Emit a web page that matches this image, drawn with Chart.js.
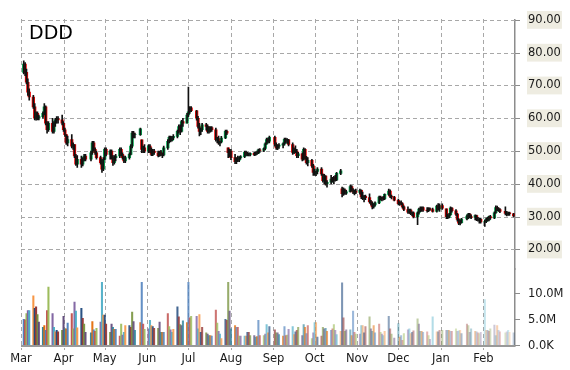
<!DOCTYPE html>
<html>
<head>
<meta charset="utf-8">
<script src="https://cdn.jsdelivr.net/npm/chart.js@4.4.1/dist/chart.umd.min.js"></script>
<style>
  html, body { margin: 0; padding: 0; background: #fff; }
  #wrap { width: 570px; height: 370px; position: relative; }
</style>
</head>
<body>
<div id="wrap"><canvas id="stockChart"></canvas></div>
<script>
// trading days Mar 3 2014 .. Feb 23 2015 (x = days since Mar 1 2014)
var holidays = ['2014-04-18', '2014-05-26', '2014-07-04', '2014-09-01', '2014-11-27',
                '2014-12-25', '2015-01-01', '2015-01-19', '2015-02-16'];
var monthDays = [0, 31, 61, 92, 122, 153, 184, 214, 245, 275, 306, 337];
var monthLabels = ['Mar', 'Apr', 'May', 'Jun', 'Jul', 'Aug', 'Sep', 'Oct', 'Nov', 'Dec', 'Jan', 'Feb'];
var priceTicks = [20, 30, 40, 50, 60, 70, 80, 90];
var volumeTicks = [0, 5, 10];

var open = [
  74, 76.5, 74, 71, 68, 66.5, 63.5, 60, 61.5, 60, 60.5, 61.5, 63.5, 58.5, 56.5, 58.5, 56, 58.5, 59.5, 59.8, 59.5,
  58.5, 56.5, 55, 52.5, 53.5, 51.5, 52, 48.5, 46, 47.5, 46, 47.5, 48.5, 47.5, 49.5, 52.5, 50.5, 49.5, 48, 46.5, 44.5,
  47.5, 50.5, 49, 50, 48, 46.5, 48, 48.5, 50.5, 49, 48, 47, 48, 49, 51.5, 55.5, 55, 55, 53.4, 50.5, 51,
  50, 51.5, 50, 49, 50, 49.5, 48.6, 49.8, 49, 48.8, 51, 53, 54.2, 53.2, 54, 54.5, 56, 57.5, 56, 59, 58.5,
  61, 62, 63.2, 62.3, 60, 57.5, 56, 56.5, 58, 57.5, 56, 56.5, 57.2, 56.5, 53.5, 53.8, 52.5, 52.8, 54, 56, 51, 49.5,
  50, 48, 46.8, 47.6, 47.2, 48, 48.3, 49.6, 49, 49.2, 48.8, 49.3, 48.9, 49.5, 49.4, 50.4, 50.2, 50.8, 52.2, 53.5, 53,
  54.2, 52, 51, 51.5, 51.8, 52.2, 53.6, 53, 53.4, 52, 49.6, 50.5, 50, 48.6, 49.2, 47.5, 50.5, 48, 46.5, 47.2, 45.5,
  43.5, 43, 43.8, 44.5, 43, 41, 42.4, 40, 40.5, 41.5, 41, 42, 41.2, 43.2, 38.5, 37, 38.2, 37.2, 37.6, 39.2, 38, 37.5, 37.8,
  37.4, 38, 36, 35.5, 36.2, 35.8, 34.6, 34, 33, 33.6, 34.2, 36, 35.4, 35.8, 35.5, 36.8, 37.8, 36.2, 36,
  35, 34, 34.3, 33.9, 33, 32.2, 31.4, 32, 30.9, 31.2, 29.9, 31.2, 32.3, 32.4, 32.8, 32, 31.8, 32.5, 32.2, 31.6, 33.2, 32.4,
  33.4, 32.4, 30, 29.8, 30.6, 32.6, 31.8, 30.8, 29.2, 28, 28.2, 29.3, 30.2, 30.8, 30, 29.8, 30.3, 29.1, 28.9, 29.2,
  28.4, 28.5, 29.3, 29, 30, 29.6, 31.2, 32.8, 32.4, 32.2, 31.6, 31, 30.8, 31.2, 30.9
];
var high = [
  77.5, 77, 75, 72, 69, 67, 64.5, 62, 62, 61, 62, 64.5, 63.8, 59, 59, 60, 59, 60, 60.5, 60.5, 61,
  59, 57, 55, 54.6, 55, 52.5, 52, 49, 48.6, 48.5, 48, 49, 49, 50, 53, 53, 51, 50, 48.5, 47.4, 48,
  51, 51, 50.4, 50.4, 48.6, 48.6, 49, 51, 51, 49.5, 48.5, 48.5, 49.5, 52, 56, 56, 55.5, 57, 53.4, 51.5, 52,
  52, 52, 51, 50.5, 50.5, 50, 50, 50.2, 49.5, 51.5, 53.5, 54.6, 54.6, 54.5, 55, 56.4, 58, 58, 59.4, 60, 61.5,
  69.5, 63.6, 63.6, 62.4, 60.6, 58.5, 57, 58.5, 58.5, 58, 57.5, 57.5, 57.5, 57, 54.2, 54.6, 53, 54.5, 56.4, 56.4, 51, 50.5,
  50.5, 49, 48, 48.5, 48.3, 48.6, 50, 50, 49.6, 49.5, 49.5, 49.6, 49.8, 50, 50.6, 50.8, 51, 52.5, 54, 54, 54.6,
  54.6, 52.5, 52, 52.3, 52.5, 54, 54, 53.8, 53.6, 52.5, 51, 51.6, 50.5, 49.6, 49.5, 51, 50.8, 48.4, 48, 47.5, 46,
  44.5, 44, 45, 45, 43, 42.9, 42.5, 41, 42.6, 42, 42.3, 42.6, 43.5, 44.4, 39, 38.8, 38.5, 38, 39.6, 39.5, 38.6, 38.2, 38.4,
  38.4, 38.2, 37.5, 36.5, 36.6, 37, 35, 34.5, 34, 34.5, 36.3, 36.3, 36, 36.2, 37, 38.4, 38.2, 36.6, 36.2,
  35.4, 34.6, 34.8, 34.2, 33.3, 33, 32.3, 32.3, 31.5, 31.5, 31.5, 32.6, 33, 33, 33, 32.8, 32.8, 32.7, 32.6, 33.5, 34, 33.9,
  33.9, 32.4, 30.8, 31, 33, 32.8, 32.2, 31, 29.4, 29, 29.5, 30.6, 31, 31, 30.6, 30.6, 30.5, 29.8, 29.5, 29.6,
  29, 29.6, 29.8, 30.2, 30.4, 31.5, 33.3, 33.2, 32.8, 32.5, 33, 31.6, 31.4, 31.4, 31
];
var low = [
  73.5, 73, 70.5, 67, 65.5, 63, 59.5, 59.4, 59.5, 59.5, 60, 61, 58, 55.5, 56, 55.5, 55.5, 57.5, 58.5, 58.5, 58,
  56, 54.5, 52, 51.6, 51, 50.5, 48, 45.6, 45, 45, 45.5, 47, 47, 47, 49, 50, 49, 47.5, 46, 43.5, 44,
  47.4, 48.5, 47.5, 47.5, 45.6, 46, 47, 48, 48.5, 47.5, 46.5, 46.5, 47.5, 48.8, 51, 54, 54, 54.8, 49.5, 49.5, 49.5,
  49.5, 49.5, 48.6, 48.6, 49, 48.2, 48.4, 48.6, 48, 48.5, 50.5, 52.5, 52.8, 53, 53.5, 54, 55.5, 55, 55.8, 57.5, 58.5,
  60.5, 61.5, 62, 59.4, 57, 54.6, 55, 56, 56.4, 55.5, 55.5, 55.8, 56, 53, 52.5, 52, 51.6, 52.5, 53.8, 55, 48, 48.2,
  47.4, 46.2, 46.2, 46.8, 46.8, 47.5, 48, 48.6, 48.5, 48.5, 48.5, 48.6, 48.7, 49, 49.2, 49.6, 49.8, 50.4, 52, 52.5, 52.5,
  51.5, 50.5, 50.4, 50.8, 51, 51.8, 52.5, 52.3, 51.6, 49, 49.2, 49.5, 48, 48, 47, 47.2, 47.5, 46, 45.5, 45, 42.6,
  42.6, 42.5, 43, 42.6, 40.5, 40, 39.6, 39, 40, 40.5, 40, 40.8, 41, 42.8, 36, 36.5, 36.8, 36.8, 37.5, 37.8, 37, 36.6, 37,
  36.9, 35.5, 35.2, 34.5, 35.2, 34.2, 33.5, 32.4, 32.6, 33.2, 34, 35, 34.8, 35, 35.2, 36.5, 35.8, 35.4, 34.8,
  33.6, 33.4, 33.7, 32.6, 31.8, 31, 31, 30.6, 30.3, 29.6, 27.6, 30.8, 31.5, 31.6, 31.6, 31.4, 31.5, 31.9, 31.4, 31.4, 32, 31.6,
  32.2, 29.4, 29.4, 29.6, 30.4, 31.4, 30.4, 28.6, 27.6, 27.5, 28, 29, 29.4, 29.6, 29.4, 29, 28.8, 28.6, 28, 28,
  27, 28.2, 28.6, 28.7, 29.2, 29.4, 31, 31.8, 31.6, 31.2, 30.5, 30.2, 30.4, 30.4, 29.9
];
var close = [
  76.5, 74, 71, 68, 66.5, 63.5, 60, 61.5, 60, 60.5, 61.5, 63.5, 58.5, 56.5, 58.5, 56, 58.5, 59.5, 59.8, 59.5, 58.5,
  56.5, 55, 52.5, 53.5, 51.5, 52, 48.5, 46, 47.5, 46, 47.5, 48.5, 47.5, 49.5, 52.5, 50.5, 49.5, 48, 46.5, 44.5, 47.5,
  50.5, 49, 50, 48, 46.5, 48, 48.5, 50.5, 49, 48, 47, 48, 49, 51.5, 55.5, 55, 55, 56.8, 50.5, 51, 50,
  51.5, 50, 49, 50, 49.5, 48.6, 49.8, 49, 48.8, 51, 53, 54.2, 53.2, 54, 54.5, 56, 57.5, 56, 59, 58.5, 61,
  62, 63.2, 62.3, 60, 57.5, 56, 56.5, 58, 57.5, 56, 56.5, 57.2, 56.5, 53.5, 53.8, 52.5, 52.8, 54, 56, 55.5, 49.5, 50,
  48, 46.8, 47.6, 47.2, 48, 48.3, 49.6, 49, 49.2, 48.8, 49.3, 48.9, 49.5, 49.4, 50.4, 50.2, 50.8, 52.2, 53.5, 53, 54.2,
  52, 51, 51.5, 51.8, 52.2, 53.6, 53, 53.4, 52, 49.6, 50.5, 50, 48.6, 49.2, 47.5, 50.5, 48, 46.5, 47.2, 45.5, 43.5,
  43, 43.8, 44.5, 43, 41, 42.4, 40, 40.5, 41.5, 41, 42, 41.2, 43.2, 44, 37, 38.2, 37.2, 37.6, 39.2, 38, 37.5, 37.8, 37.4,
  38, 36, 35.5, 36.2, 35.8, 34.6, 34, 33, 33.6, 34.2, 36, 35.4, 35.8, 35.5, 36.8, 37.8, 36.2, 36, 35,
  34, 34.3, 33.9, 33, 32.2, 31.4, 32, 30.9, 31.2, 29.9, 31.2, 32.3, 32.4, 32.8, 32, 31.8, 32.5, 32.2, 31.6, 33.2, 32.4, 33.4,
  32.6, 30, 29.8, 30.6, 32.6, 31.8, 30.8, 29.2, 28, 28.2, 29.3, 30.2, 30.8, 30, 29.8, 30.3, 29.1, 28.9, 29.2, 28.4,
  28.5, 29.3, 29, 30, 29.6, 31.2, 32.8, 32.4, 32.2, 31.6, 31, 30.8, 31.2, 30.9, 30.2
];
// volume in millions of shares
var volume = [
  5.1, 5.0, 6.2, 6.8, 6.8, 9.6, 7.2, 7.5, 6.0, 4.6, 3.6, 3.9, 3.0, 6.8, 11.3, 6.2, 3.6, 2.7, 3.0, 2.7, 3.0,
  5.7, 3.3, 3.3, 4.4, 6.2, 3.3, 8.4, 6.7, 3.5, 7.2, 5.3, 4.2, 2.6, 2.5, 4.7, 3.1, 2.8, 3.4, 4.6, 12.2, 5.9,
  5.9, 4.2, 2.6, 4.2, 3.6, 3.2, 3.2, 1.9, 4.2, 2.1, 2.6, 3.9, 3.9, 3.6, 6.5, 4.7, 3.0, 4.5, 12.2, 4.2, 3.2,
  3.3, 4.9, 3.9, 3.7, 3.4, 3.4, 4.6, 2.6, 2.6, 2.6, 6.2, 3.7, 3.1, 2.6, 3.2, 7.5, 5.6, 4.1, 3.9, 4.8, 4.5,
  12.2, 5.4, 5.7, 5.7, 3.3, 6.0, 2.6, 3.6, 2.5, 2.3, 2.0, 2.0, 1.9, 6.9, 4.4, 2.8, 2.3, 1.4, 5.1, 4.9, 12.2, 6.7,
  3.3, 3.9, 3.6, 3.6, 1.9, 1.9, 1.9, 1.9, 2.6, 2.6, 2.0, 2.0, 1.7, 1.8, 4.9, 2.0, 2.0, 2.3, 4.1, 2.5, 3.7,
  3.1, 2.5, 2.5, 2.2, 1.9, 3.7, 2.0, 2.1, 3.2, 3.7, 2.2, 2.7, 3.0, 3.6, 2.0, 4.1, 3.6, 2.4, 3.9, 1.4, 2.5,
  4.5, 4.5, 1.7, 1.9, 3.6, 3.3, 3.4, 2.8, 3.0, 3.3, 4.1, 3.0, 2.2, 2.8, 12.1, 5.4, 2.8, 3.1, 3.1, 2.0, 6.7, 2.6, 2.3,
  2.3, 3.9, 3.9, 2.5, 3.7, 5.6, 3.3, 2.8, 3.9, 2.5, 4.2, 2.6, 2.3, 2.0, 2.8, 5.7, 3.3, 2.3, 1.5,
  4.3, 1.7, 2.0, 1.1, 2.4, 3.1, 3.3, 2.4, 2.6, 2.9, 5.2, 4.2, 2.8, 2.8, 2.6, 2.7, 2.0, 1.3, 5.6, 2.7, 2.7, 3.0,
  3.0, 3.0, 3.0, 3.0, 2.8, 2.8, 3.3, 2.8, 2.9, 3.0, 2.4, 4.2, 3.9, 2.6, 3.3, 2.8, 2.7, 2.5, 2.4, 2.6,
  8.9, 3.0, 3.0, 2.8, 3.3, 4.0, 2.0, 3.9, 3.0, 2.7, 2.5, 2.7, 3.0, 2.6, 2.5
];

var days = [];
var dayMs = 86400000;
var origin = Date.UTC(2014, 2, 1);
for (var t = Date.UTC(2014, 2, 3); t <= Date.UTC(2015, 1, 23); t += dayMs) {
  var dt = new Date(t);
  var wd = dt.getUTCDay();
  if (wd === 0 || wd === 6) continue;
  if (holidays.indexOf(dt.toISOString().slice(0, 10)) >= 0) continue;
  days.push((t - origin) / dayMs);
}

var upColor = '#00a84f';
var downColor = '#f00000';
var volPalette = ['#4f81bd', '#c0504d', '#9bbb59', '#8064a2', '#4bacc6', '#f79646',
                  '#1f497d', '#943634', '#76923c', '#5f497a', '#31859b', '#e36c09'];

function hexToRgba(hex, a) {
  var n = parseInt(hex.slice(1), 16);
  return 'rgba(' + (n >> 16) + ',' + ((n >> 8) & 255) + ',' + (n & 255) + ',' + a + ')';
}

// dashes as rect paths
function dashH(c, x0, x1, y) {
  for (var x = x0; x < x1; x += 7) c.rect(x, y, Math.min(4, x1 - x), 1);
}
function dashV(c, x, y0, y1) {
  for (var y = y0; y < y1; y += 7) c.rect(x, y, 1, Math.min(4, y1 - y));
}

// dashed grid, tick marks, baseline and title; positions come from the scale boxes
var decorPlugin = {
  id: 'decor',
  beforeDatasetsDraw: function (chart) {
    var c = chart.ctx;
    var xs = chart.scales.x, ys = chart.scales.y, vs = chart.scales.v;
    var left = Math.round(xs.left), right = Math.round(xs.right);
    var top = Math.round(ys.top), bottom = Math.round(xs.top);
    c.save();
    c.fillStyle = '#a8a8a8';
    c.beginPath();
    monthDays.forEach(function (d) {
      dashV(c, Math.round(xs.getPixelForValue(d)), top - 1, bottom + 4);
    });
    priceTicks.forEach(function (v) {
      dashH(c, left, right, Math.round(ys.getPixelForValue(v)));
    });
    c.fill();
    c.fillStyle = '#8c8c8c';
    c.beginPath();
    priceTicks.forEach(function (v) {
      c.rect(right, Math.round(ys.getPixelForValue(v)), 5, 1);
    });
    volumeTicks.forEach(function (v) {
      c.rect(right, Math.round(vs.getPixelForValue(v)) - 1, 5, 1);
    });
    c.fill();
    c.restore();
  },
  afterDraw: function (chart) {
    var c = chart.ctx;
    var xs = chart.scales.x;
    c.save();
    c.fillStyle = '#999999';
    c.beginPath();
    c.rect(Math.round(xs.left), Math.round(xs.top) - 1, Math.round(xs.right - xs.left), 2);
    c.fill();
    c.font = '19px "DejaVu Sans"';
    c.fillStyle = '#000';
    c.textBaseline = 'alphabetic';
    c.fillText('DDD', 29, 39);
    c.restore();
  }
};

Chart.defaults.font.family = '"DejaVu Sans", Verdana, sans-serif';
Chart.defaults.font.size = 11.5;
Chart.defaults.color = '#1a1a1a';

var ctx = document.getElementById('stockChart').getContext('2d');
var stockChart = new Chart(ctx, {
  type: 'bar',
  data: {
    datasets: [{
      label: 'Range',
      data: days.map(function (d, i) { return { x: d, y: [low[i], high[i]] }; }),
      backgroundColor: '#111',
      barThickness: 1,
      grouped: false,
      order: 0,
      yAxisID: 'y'
    }, {
      label: 'Body',
      data: days.map(function (d, i) { return { x: d, y: [open[i], close[i]] }; }),
      backgroundColor: function (c) {
        var i = c.dataIndex;
        return close[i] >= open[i] ? upColor : downColor;
      },
      barThickness: 2.6,
      grouped: false,
      order: 1,
      yAxisID: 'y'
    }, {
      label: 'Volume',
      data: days.map(function (d, i) { return { x: d, y: volume[i] }; }),
      backgroundColor: function (c) {
        var i = c.dataIndex;
        var a = 1 - 0.72 * Math.pow(i / (days.length - 1), 1.3);
        return hexToRgba(volPalette[i % volPalette.length], a.toFixed(2));
      },
      barThickness: 1.4,
      grouped: false,
      order: 2,
      yAxisID: 'v'
    }]
  },
  options: {
    responsive: true,
    maintainAspectRatio: false,
    animation: false,
    devicePixelRatio: 1,
    layout: { padding: { left: 21, top: 15, right: 0, bottom: 0 } },
    plugins: {
      legend: { display: false },
      tooltip: { enabled: false }
    },
    scales: {
      x: {
        type: 'linear',
        min: 0,
        max: 360,
        offset: false,
        afterBuildTicks: function (s) { s.ticks = monthDays.map(function (v) { return { value: v }; }); },
        afterFit: function (s) { s.height = 24; },
        ticks: {
          autoSkip: false,
          maxRotation: 0,
          padding: 6,
          callback: function (v, i) { return monthLabels[i]; }
        },
        grid: { drawOnChartArea: false, drawTicks: false, offset: false },
        border: { display: false }
      },
      y: {
        type: 'linear',
        position: 'right',
        stack: 'right',
        stackWeight: 253,
        min: 14,
        max: 90,
        afterBuildTicks: function (s) { s.ticks = priceTicks.map(function (v) { return { value: v }; }); },
        afterFit: function (s) { s.width = 55; },
        ticks: {
          padding: 13,
          callback: function (v) { return v.toFixed(2); },
          showLabelBackdrop: true,
          backdropColor: '#eeece1',
          backdropPadding: { x: 1, y: 2 }
        },
        grid: { drawOnChartArea: false, drawTicks: false },
        border: { color: '#8c8c8c', width: 1.5 }
      },
      v: {
        type: 'linear',
        position: 'right',
        stack: 'right',
        stackWeight: 78,
        min: 0,
        max: 14.72,
        afterBuildTicks: function (s) { s.ticks = volumeTicks.map(function (v) { return { value: v }; }); },
        afterFit: function (s) { s.width = 55; },
        ticks: {
          padding: 13,
          callback: function (v) { return v === 0 ? '0.0K' : v.toFixed(1) + 'M'; }
        },
        grid: { drawOnChartArea: false, drawTicks: false },
        border: { color: '#8c8c8c', width: 1.5 }
      }
    }
  },
  plugins: [decorPlugin]
});
</script>
</body>
</html>
